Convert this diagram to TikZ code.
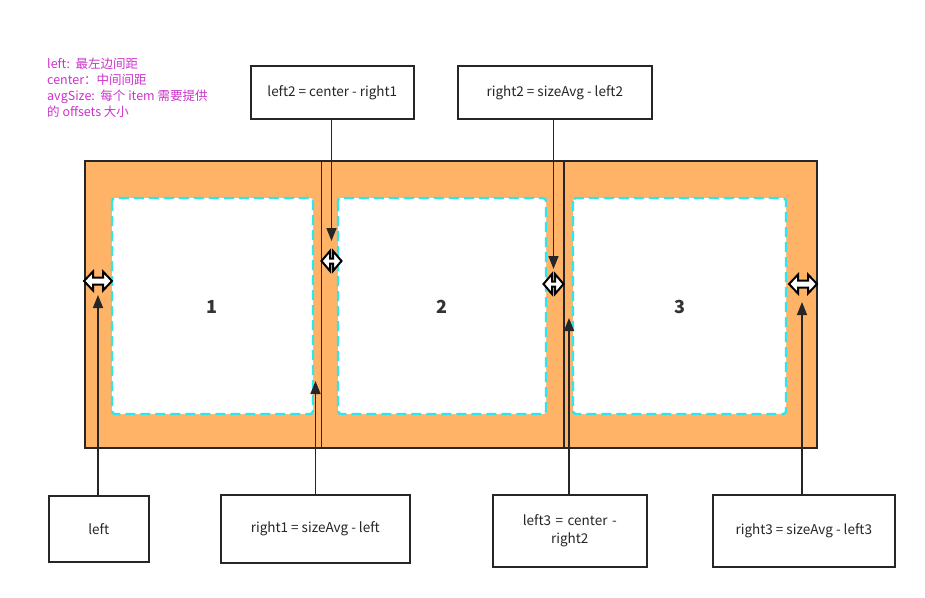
\documentclass[tikz,border=0pt]{standalone}
\usepackage{fontspec}
\setmainfont{Noto Sans CJK SC}
\usetikzlibrary{arrows.meta}
\definecolor{orangefill}{HTML}{FFB366}
\definecolor{cyanline}{HTML}{2EE6EE}
\definecolor{magentatext}{HTML}{CC33CC}
\definecolor{darkline}{HTML}{262626}
\tikzset{
  lbox/.style={draw=darkline, line width=1.6pt, fill=white, inner sep=0pt, align=center, font=\fontsize{13.5}{18}\selectfont, text=black!85},
  slot/.style={draw=cyanline, line width=2.4pt, dash pattern=on 10pt off 5pt, fill=white, rounded corners=3pt},
  conn/.style={draw=darkline, line width=1.6pt, -{Triangle[length=13pt,width=10pt]}},
  num/.style={font=\fontsize{18}{22}\selectfont\bfseries, text=black!80},
  pics/dbl/.style n args={4}{code={
    \draw[fill=white, draw=black, line width=2pt, line join=miter]
      (-#1,0) -- (-#1+#2,#3) -- (-#1+#2,#4) -- (#1-#2,#4) -- (#1-#2,#3) -- (#1,0)
      -- (#1-#2,-#3) -- (#1-#2,-#4) -- (-#1+#2,-#4) -- (-#1+#2,-#3) -- cycle;
  }}
}
\begin{document}
\begin{tikzpicture}[x=1pt,y=-1pt]
\useasboundingbox (0,0) rectangle (925,597);
% legend
\node[anchor=north west, align=left, text=magentatext, font=\fontsize{12.5}{16}\selectfont, inner sep=0pt] (legend) at (47,58)
 {left:~~最左边间距\\center：中间间距\\avgSize:~~每个 item 需要提供\\的 offsets 大小};
% main strip
\node[draw=darkline, line width=1.6pt, fill=orangefill, minimum width=732pt, minimum height=287pt, inner sep=0pt, anchor=north west] (strip) at (84,160) {};
\coordinate (d1t) at (321.5,160); \coordinate (d1b) at (321.5,447);
\coordinate (d2t) at (564,160); \coordinate (d2b) at (564,447);
\draw[darkline, line width=1.6pt] (d1t) -- (d1b);
\draw[darkline, line width=1.6pt] (d2t) -- (d2b);
% slots
\draw[slot] (112,198) rectangle (313,414);
\draw[slot] (338,198) rectangle (546,414);
\draw[slot] (573,198) rectangle (786,414);
\node[num] (n1) at (212,307) {1};
\node[num] (n2) at (442,307) {2};
\node[num] (n3) at (680,307) {3};
% double arrows
\pic at (98,281) {dbl={14}{9}{9.5}{3.5}};
\pic at (331.5,261) {dbl={10}{8.5}{10}{2.5}};
\pic at (553.5,284) {dbl={10}{8.5}{10}{2.5}};
\pic at (803,284) {dbl={14}{9}{9.5}{3.5}};
% top boxes
\node[lbox, minimum width=163pt, minimum height=53pt, anchor=north west] (t1) at (250,65) {left2 = center - right1};
\node[lbox, minimum width=194pt, minimum height=53pt, anchor=north west] (t2) at (457,65) {right2 = sizeAvg - left2};
% bottom boxes
\node[lbox, minimum width=100pt, minimum height=66pt, anchor=north west] (b1) at (48,495) {left};
\node[lbox, minimum width=189pt, minimum height=68pt, anchor=north west] (b2) at (220,494) {right1 = sizeAvg - left};
\node[lbox, minimum width=154pt, minimum height=72pt, anchor=north west, text width=140pt] (b3) at (492,494) {left3 = center -\\right2};
\node[lbox, minimum width=182pt, minimum height=72pt, anchor=north west] (b4) at (712,494) {right3 = sizeAvg - left3};
% connector ends
\coordinate (e1) at (331.5,241);
\coordinate (e2) at (553.5,269);
\coordinate (e3) at (98,295);
\coordinate (e4) at (315.5,381);
\coordinate (e5) at (569,318);
\coordinate (e6) at (802,302);
\draw[conn] (t1.south -| e1) -- (e1);
\draw[conn] (t2.south -| e2) -- (e2);
\draw[conn] (b1.north -| e3) -- (e3);
\draw[conn] (b2.north -| e4) -- (e4);
\draw[conn] (b3.north -| e5) -- (e5);
\draw[conn] (b4.north -| e6) -- (e6);
\end{tikzpicture}
\end{document}
